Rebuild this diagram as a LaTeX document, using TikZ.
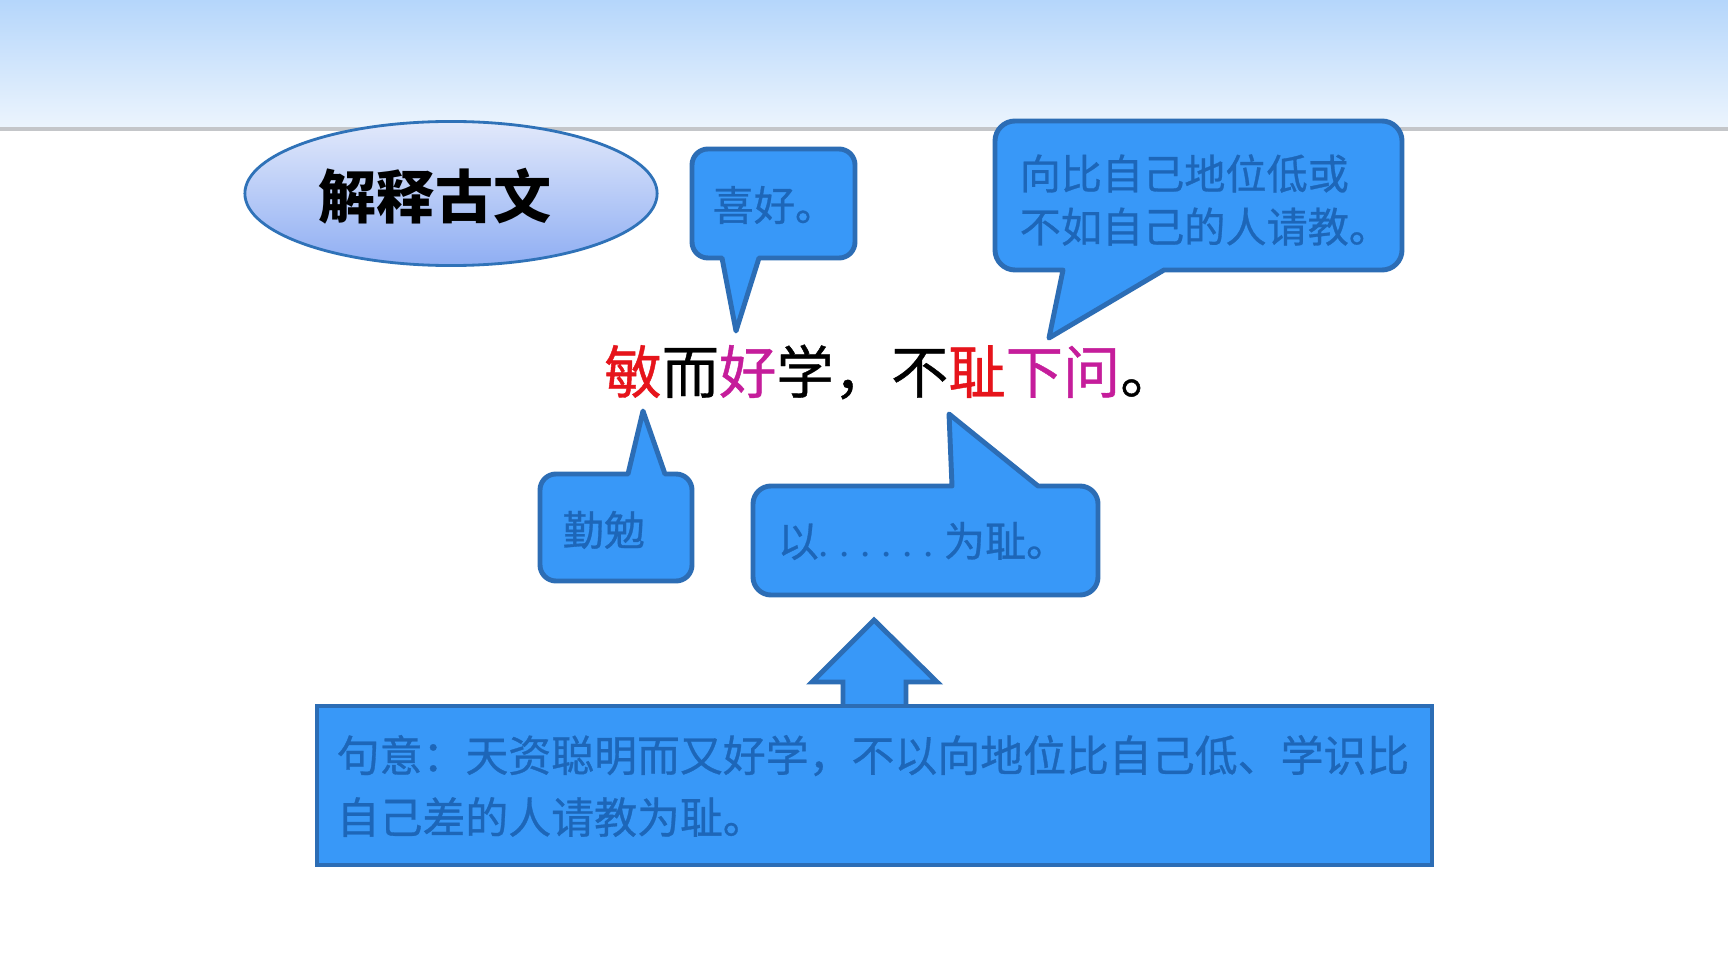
\documentclass[tikz,border=0pt]{standalone}
\usepackage{fontspec}
\usetikzlibrary{shapes.geometric}
\newfontfamily\cjk{Noto Sans CJK SC}
\newfontfamily\cjkm[FakeBold=0.7]{Noto Sans CJK SC}
\newfontfamily\lat{Liberation Serif}
\definecolor{hdtop}{HTML}{B5D6FB}
\definecolor{hdbot}{HTML}{EDF5FD}
\definecolor{hdline}{HTML}{C4C6C9}
\definecolor{calfill}{HTML}{3898F8}
\definecolor{calline}{HTML}{2C6DB5}
\definecolor{caltext}{HTML}{1D66B8}
\definecolor{eltop}{HTML}{E2E9FB}
\definecolor{elbot}{HTML}{8FAEF3}
\definecolor{elline}{HTML}{2F72B8}
\definecolor{cred}{HTML}{E6141B}
\definecolor{cmag}{HTML}{C51D9B}
\newcommand\sdots{{\lat.\hspace{3pt}.\hspace{3pt}.\hspace{3pt}.\hspace{3pt}.\hspace{3pt}.\hspace{3pt}}}
\tikzset{
  callout/.style={fill=calfill, draw=calline, line width=1.4pt, line join=round},
  caltxt/.style={inner sep=0pt, text=caltext, font=\cjkm\fontsize{11.7}{15.1}\selectfont},
  titlebox/.style={ellipse, minimum width=4.12cm, minimum height=1.44cm, top color=eltop, bottom color=elbot, draw=elline, line width=0.8pt, inner sep=0pt},
}
\begin{document}
\begin{tikzpicture}[x=0.01cm,y=0.01cm]
\useasboundingbox (0,0) rectangle (1728,972);
\fill[white] (0,0) rectangle (1728,972);
% header
\shade[top color=hdtop, bottom color=hdbot] (0,842) rectangle (1728,972);
\draw[hdline, line width=1pt] (0,843) -- (1728,843);
% title ellipse
\node[titlebox] (titlebox) at (451,778.5) {};
\node[inner sep=0pt, font=\cjk\bfseries\fontsize{16.5}{20}\selectfont] (title) at (435,776) {解释古文};
% callout: 喜好
\draw[callout] (692,730) -- (692,807) arc[start angle=180,end angle=90,radius=0.16cm] -- (839,823) arc[start angle=90,end angle=0,radius=0.16cm] -- (855,730) arc[start angle=0,end angle=-90,radius=0.16cm] -- (759,714) -- (736,641) -- (722,714) -- (708,714) arc[start angle=270,end angle=180,radius=0.16cm] -- cycle;
\node[caltxt, anchor=west] (xihao) at (712,767) {喜好。};
% callout: big
\draw[callout] (995,722) -- (995,831) arc[start angle=180,end angle=90,radius=0.2cm] -- (1382,851) arc[start angle=90,end angle=0,radius=0.2cm] -- (1402,722) arc[start angle=0,end angle=-90,radius=0.2cm] -- (1164,702) -- (1049,634) -- (1063,702) -- (1015,702) arc[start angle=270,end angle=180,radius=0.2cm] -- cycle;
\node[caltxt, anchor=west, align=left] (xiang) at (1019,772) {向比自己地位低或\\不如自己的人请教。};
% callout: 勤勉
\draw[callout] (540,407) -- (540,482) arc[start angle=180,end angle=90,radius=0.16cm] -- (628,498) -- (643,561) -- (665,498) -- (676,498) arc[start angle=90,end angle=0,radius=0.16cm] -- (692,407) arc[start angle=0,end angle=-90,radius=0.16cm] -- (556,391) arc[start angle=270,end angle=180,radius=0.16cm] -- cycle;
\node[caltxt, anchor=west] (qinmian) at (562,442) {勤勉};
% callout: 以……为耻
\draw[callout] (753,395) -- (753,468) arc[start angle=180,end angle=90,radius=0.18cm] -- (952,486) -- (949,558) -- (1038,486) -- (1080,486) arc[start angle=90,end angle=0,radius=0.18cm] -- (1098,395) arc[start angle=0,end angle=-90,radius=0.18cm] -- (771,377) arc[start angle=270,end angle=180,radius=0.18cm] -- cycle;
\node[caltxt, anchor=west] (yiwei) at (777,431) {以\sdots 为耻。};
% main sentence
\node[inner sep=0pt, font=\cjkm\fontsize{16.3}{20}\selectfont] (sent) at (891,600) {\textcolor{cred}{敏}而\textcolor{cmag}{好}学，不\textcolor{cred}{耻}\textcolor{cmag}{下问}。};
% block arrow and meaning box
\fill[calfill] (843,266) -- (843,290) -- (812,290) -- (874,352) -- (937,290) -- (906,290) -- (906,266) -- cycle;
\draw[calline, line width=1.4pt] (843,266) -- (843,290) -- (812,290) -- (874,352) -- (937,290) -- (906,290) -- (906,266);
\draw[callout, line join=miter] (317,107) rectangle (1432,266);
\node[caltxt, anchor=west, align=left, font=\cjkm\fontsize{12.2}{17.6}\selectfont] (meaning) at (336,186) {句意：天资聪明而又好学，不以向地位比自己低、学识比\\自己差的人请教为耻。};
\end{tikzpicture}
\end{document}
